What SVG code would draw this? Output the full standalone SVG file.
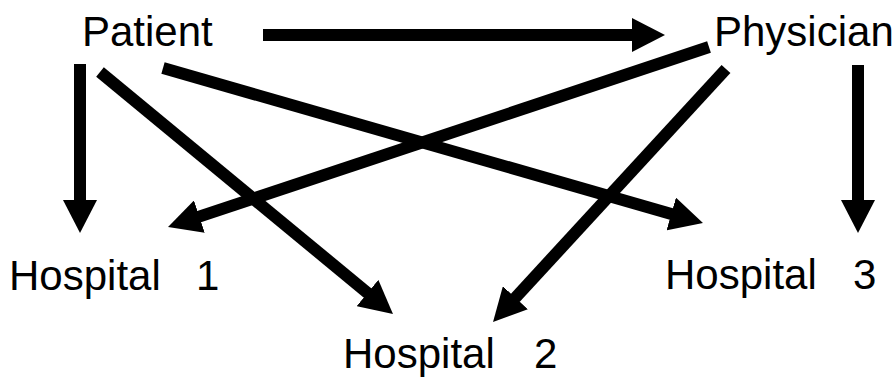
<svg xmlns="http://www.w3.org/2000/svg" width="895" height="377" viewBox="0 0 895 377">
<style>
  .lbl { font-family: "Liberation Sans", Arial, sans-serif; font-size: 42px; fill: #000; }
  .edge { stroke: #000; stroke-width: 12; stroke-linecap: butt; fill: none; marker-end: url(#head); }
</style>
<defs>
  <marker id="head" viewBox="0 0 33 34" refX="1" refY="17" markerWidth="33" markerHeight="34" markerUnits="userSpaceOnUse" orient="auto">
    <path d="M0,0 L33,17 L0,34 Z" fill="#000"/>
  </marker>
</defs>
<rect width="895" height="377" fill="#fff"/>
<g id="connectors">
  <line class="edge" x1="263" y1="35" x2="633" y2="35"/>
  <line class="edge" x1="80" y1="64" x2="80" y2="201"/>
  <line class="edge" x1="100" y1="72" x2="368.3" y2="293.6"/>
  <line class="edge" x1="163" y1="68" x2="672.2" y2="214.2"/>
  <line class="edge" x1="709" y1="47" x2="198.4" y2="216.9"/>
  <line class="edge" x1="726" y1="69" x2="514.7" y2="298.5"/>
  <line class="edge" x1="858" y1="65" x2="858" y2="201"/>
</g>
<g id="patient"><text class="lbl" x="82" y="46">Patient</text></g>
<g id="physician"><text class="lbl" x="714" y="46">Physician</text></g>
<g id="hospital1"><text class="lbl" x="9" y="290">Hospital <tspan x="196">1</tspan></text></g>
<g id="hospital2"><text class="lbl" x="343" y="368">Hospital <tspan x="534">2</tspan></text></g>
<g id="hospital3"><text class="lbl" x="665" y="289">Hospital <tspan x="853">3</tspan></text></g>
</svg>
